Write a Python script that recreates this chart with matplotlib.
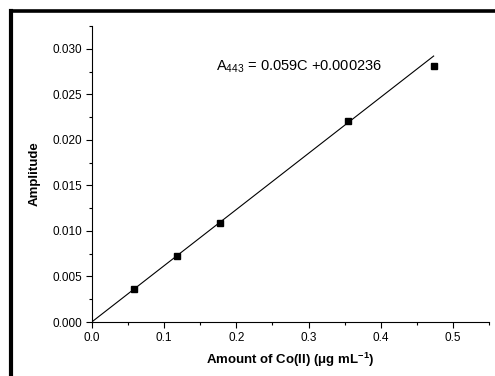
import matplotlib.pyplot as plt
from matplotlib.lines import Line2D
from matplotlib.ticker import MultipleLocator

plt.rcParams['font.family'] = ['Liberation Sans', 'DejaVu Sans']
plt.rcParams['mathtext.fontset'] = 'custom'
plt.rcParams['mathtext.rm'] = 'Liberation Sans'
plt.rcParams['mathtext.it'] = 'Liberation Sans'
plt.rcParams['mathtext.bf'] = 'Liberation Sans:bold'

# measured points
conc = [0.059, 0.118, 0.1775, 0.355, 0.473]
amp = [0.0036, 0.00725, 0.01085, 0.0221, 0.02806]
# fitted line ends
fit_x = [0.0, 0.473]
fit_y = [0.0, 0.0292]

fig = plt.figure(figsize=(4.95, 3.76), dpi=100)
ax = fig.add_axes([0.1853, 0.1436, 0.8032, 0.7873])

ax.plot(fit_x, fit_y, color='black', lw=0.8)
ax.plot(conc, amp, 's', color='black', ms=5)

ax.set_xlim(0, 0.55)
ax.set_ylim(0, 0.0325)
ax.xaxis.set_major_locator(MultipleLocator(0.1))
ax.xaxis.set_minor_locator(MultipleLocator(0.05))
ax.yaxis.set_major_locator(MultipleLocator(0.005))
ax.yaxis.set_minor_locator(MultipleLocator(0.0025))
ax.xaxis.set_major_formatter(plt.FuncFormatter(lambda v, p: f"{v:.1f}"))
ax.yaxis.set_major_formatter(plt.FuncFormatter(lambda v, p: f"{v:.3f}"))

for s in ['top', 'right']:
    ax.spines[s].set_visible(False)
for s in ['left', 'bottom']:
    ax.spines[s].set_linewidth(0.8)
ax.tick_params(which='major', direction='out', length=4, width=0.8, labelsize=8.5, pad=3)
ax.tick_params(which='minor', direction='out', length=2.5, width=0.8)

ax.set_xlabel(r'Amount of Co(II) ($\mathbf{\mu}$g mL$^{\mathbf{-1}}$)', fontsize=9.5,
              fontweight='bold', labelpad=5)
ax.set_ylabel('Amplitude', fontsize=9.5, fontweight='bold', labelpad=8)

ax.text(0.172, 0.0276, r'A$_{443}$ = 0.059C +0.000236', fontsize=10.5)

# thick frame at top and left of the picture
fig.add_artist(Line2D([11 / 495, 11 / 495], [0, 1 - 10.5 / 376], color='black', lw=3,
                      transform=fig.transFigure, solid_capstyle='projecting'))
fig.add_artist(Line2D([11 / 495, 1], [1 - 10.5 / 376, 1 - 10.5 / 376], color='black', lw=2.6,
                      transform=fig.transFigure, solid_capstyle='projecting'))

fig.savefig('out.png', dpi=100)
